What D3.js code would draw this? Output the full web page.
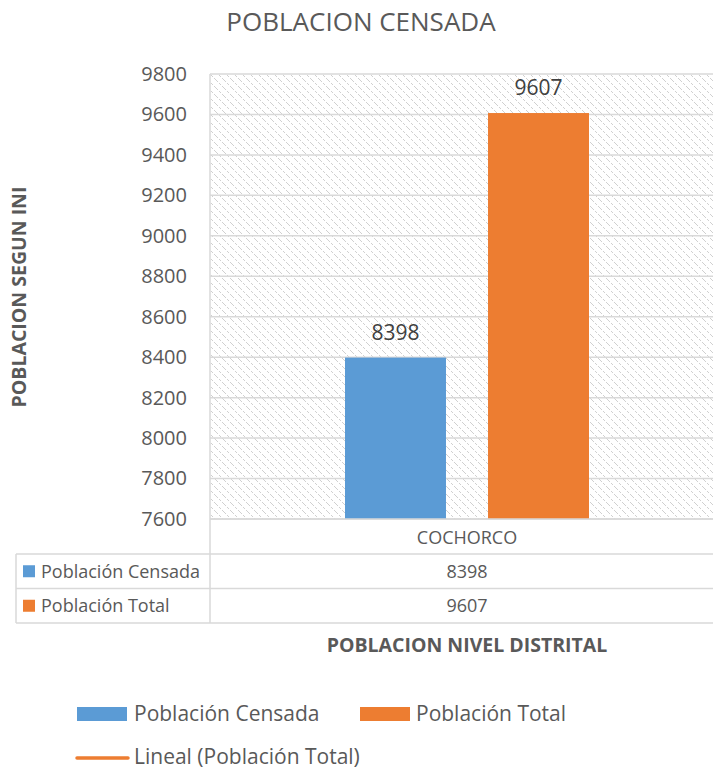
<!DOCTYPE html>
<html><head><meta charset="utf-8">
<script src="https://cdn.jsdelivr.net/npm/d3@7/dist/d3.min.js"></script>
<style>body{margin:0;background:#fff}svg{display:block}text{font-family:"Open Sans",sans-serif}</style>
</head><body><svg id="c" width="713" height="769"></svg>
<script>
const categories = ["COCHORCO"];
const seriesNames = ["Población Censada", "Población Total"];
const censada = [8398];
const total = [9607];
const yTicks = [7600,7800,8000,8200,8400,8600,8800,9000,9200,9400,9600,9800];
const colors = ["#5b9bd5", "#ed7d31"];

const svg = d3.select("#c");
const L = 210, R = 724, T = 74, B = 519;
const grey = "#595959", grid = "#d9d9d9";

const defs = svg.append("defs");
const pat = defs.append("pattern").attr("id","hatch").attr("patternUnits","userSpaceOnUse")
  .attr("width",8).attr("height",8);
pat.append("rect").attr("width",8).attr("height",8).attr("fill","#fff");
[[0,0],[1,1],[3,3],[4,4],[6,6],[7,7]].forEach(p=>pat.append("rect").attr("x",p[0]).attr("y",p[1]).attr("width",1).attr("height",1).attr("fill","#d0d0d0"));

const y = d3.scaleLinear().domain([7600,9800]).range([B,T]);
const x0 = d3.scaleBand().domain(categories).range([L,R]);
const x1 = d3.scaleBand().domain(seriesNames).range([0,x0.bandwidth()]).paddingInner(0.294).paddingOuter(0.944);

svg.append("rect").attr("x",L).attr("y",T).attr("width",R-L).attr("height",B-T).attr("fill","url(#hatch)");

svg.append("g").selectAll("line").data(yTicks).join("line")
  .attr("x1",L).attr("x2",R).attr("y1",d=>y(d)).attr("y2",d=>y(d))
  .attr("stroke",grid).attr("stroke-width",1.5);

const yAxis = d3.axisLeft(y).tickValues(yTicks).tickSize(0).tickPadding(23).tickFormat(d3.format("d"));
const ya = svg.append("g").attr("transform",`translate(${L},0)`).call(yAxis);
ya.select(".domain").remove();
ya.selectAll("text").attr("fill",grey).style("font-size","20px").style("font-family","'Open Sans',sans-serif");

const data = categories.map((c,i)=>({cat:c, vals:[censada[i], total[i]]}));
const g = svg.append("g");
data.forEach(d=>{
  d.vals.forEach((v,j)=>{
    const bx = x0(d.cat)+x1(seriesNames[j]);
    g.append("rect").attr("x",bx).attr("y",y(v)).attr("width",x1.bandwidth()).attr("height",B-y(v)).attr("fill",colors[j]);
    g.append("text").attr("x",bx+x1.bandwidth()/2).attr("y",y(v)-25).attr("dy","0.35em").attr("text-anchor","middle")
      .attr("fill","#404040").style("font-size","21px").text(v);
  });
});

const rowH = 34.5;
const tTop = B, r1 = B+35, r2 = r1+rowH, r3 = r2+rowH;
const tl = svg.append("g").attr("stroke",grid).attr("stroke-width",1.5);
tl.append("line").attr("x1",L).attr("x2",R).attr("y1",B).attr("y2",B);
[r1,r2,r3].forEach(yy=>tl.append("line").attr("x1",16).attr("x2",R).attr("y1",yy).attr("y2",yy));
tl.append("line").attr("x1",L).attr("x2",L).attr("y1",T).attr("y2",r3);
tl.append("line").attr("x1",16).attr("x2",16).attr("y1",r1).attr("y2",r3);

const cx = x0(categories[0])+x0.bandwidth()/2;
svg.append("text").attr("x",cx).attr("y",(tTop+r1)/2+1).attr("dy","0.35em").attr("text-anchor","middle")
  .attr("fill",grey).style("font-size","18px").text(categories[0]);
const rows = [[censada[0]],[total[0]]];
[r1,r2].forEach((ry,i)=>{
  svg.append("rect").attr("x",23).attr("y",ry+rowH/2-6).attr("width",12).attr("height",12).attr("fill",colors[i]);
  svg.append("text").attr("x",41).attr("y",ry+rowH/2).attr("dy","0.35em").attr("fill",grey).style("font-size","18px").text(seriesNames[i]);
  svg.append("text").attr("x",cx).attr("y",ry+rowH/2).attr("dy","0.35em").attr("text-anchor","middle").attr("fill",grey).style("font-size","18px").text(rows[i][0]);
});

svg.append("text").attr("x",361).attr("y",22).attr("dy","0.35em").attr("text-anchor","middle")
  .attr("fill",grey).style("font-size","26px").text("POBLACION CENSADA");
svg.append("text").attr("transform","translate(19,297) rotate(-90)").attr("dy","0.35em").attr("text-anchor","middle")
  .attr("fill",grey).style("font-size","19.5px").style("font-weight","bold").text("POBLACION SEGUN INI");
svg.append("text").attr("x",467).attr("y",645).attr("dy","0.35em").attr("text-anchor","middle")
  .attr("fill",grey).style("font-size","19.5px").style("font-weight","bold").text("POBLACION NIVEL DISTRITAL");

const lg = svg.append("g");
[[77,134],[360,416]].forEach((p,i)=>{
  lg.append("rect").attr("x",p[0]).attr("y",707).attr("width",50).attr("height",14).attr("fill",colors[i]);
  lg.append("text").attr("x",p[1]).attr("y",714).attr("dy","0.35em").attr("fill",grey).style("font-size","21px").text(seriesNames[i]);
});
lg.append("line").attr("x1",77).attr("x2",128).attr("y1",758).attr("y2",758).attr("stroke",colors[1]).attr("stroke-width",3.5).attr("stroke-linecap","round");
lg.append("text").attr("x",134).attr("y",757).attr("dy","0.35em").attr("fill",grey).style("font-size","21px").text("Lineal (Población Total)");
</script></body></html>
